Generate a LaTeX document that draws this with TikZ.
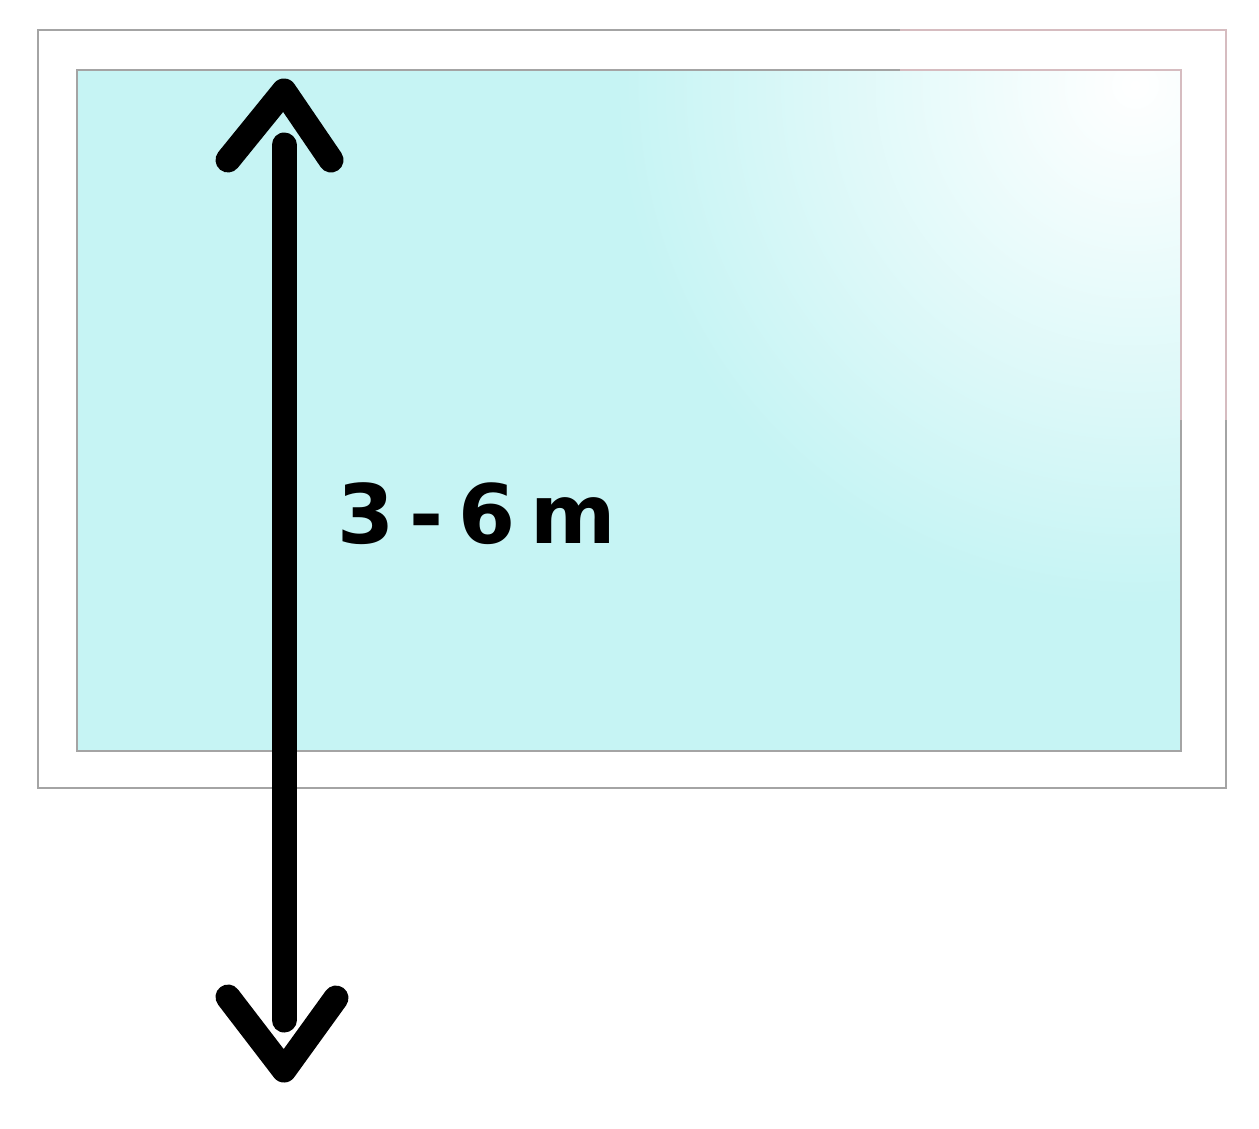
\documentclass[tikz,border=0pt]{standalone}
\usepackage{fontspec}
\setmainfont{DejaVu Sans}
\definecolor{glass}{RGB}{198,244,244}
\definecolor{framegray}{RGB}{164,164,164}
\definecolor{framepink}{RGB}{214,188,192}
\begin{document}
\begin{tikzpicture}[x=1pt,y=-1pt,
  frame/.style={draw=framegray,line width=2.6pt},
  pinkedge/.style={draw=framepink,line width=2.6pt},
  arrowline/.style={draw=black,line width=25pt,line cap=round,line join=round},
  dimlabel/.style={inner sep=0pt,anchor=base west,font=\fontsize{82}{98}\selectfont\bfseries}]
\useasboundingbox[fill=white] (0,0) rectangle (1259,1128);
% glass pane
\fill[glass] (77,70) rectangle (1181,751);
\begin{scope}
  \clip (77,70) rectangle (1181,751);
  \shade[inner color=white,outer color=glass] (1135,85) circle (520);
\end{scope}
% frames
\draw[frame] (38,30) rectangle (1226,788);
\draw[frame] (77,70) rectangle (1181,751);
\draw[pinkedge] (900,30) -- (1226,30) -- (1226,420);
\draw[pinkedge] (900,70) -- (1181,70) -- (1181,420);
% dimension arrow
\coordinate (top) at (284,145);
\coordinate (bot) at (284,1020);
\coordinate (tapex) at (284,91);
\coordinate (tl) at (228,160);
\coordinate (tr) at (331,160);
\coordinate (bapex) at (284,1070);
\coordinate (bl) at (228,997);
\coordinate (br) at (336,998);
\draw[arrowline] (top) -- (bot);
\draw[arrowline] (tl) -- (tapex) -- (tr);
\draw[arrowline] (bl) -- (bapex) -- (br);
\node[dimlabel] (label) at (337,543) {3\hspace{15pt}-\hspace{15pt}6\hspace{15pt}m};
\end{tikzpicture}
\end{document}
